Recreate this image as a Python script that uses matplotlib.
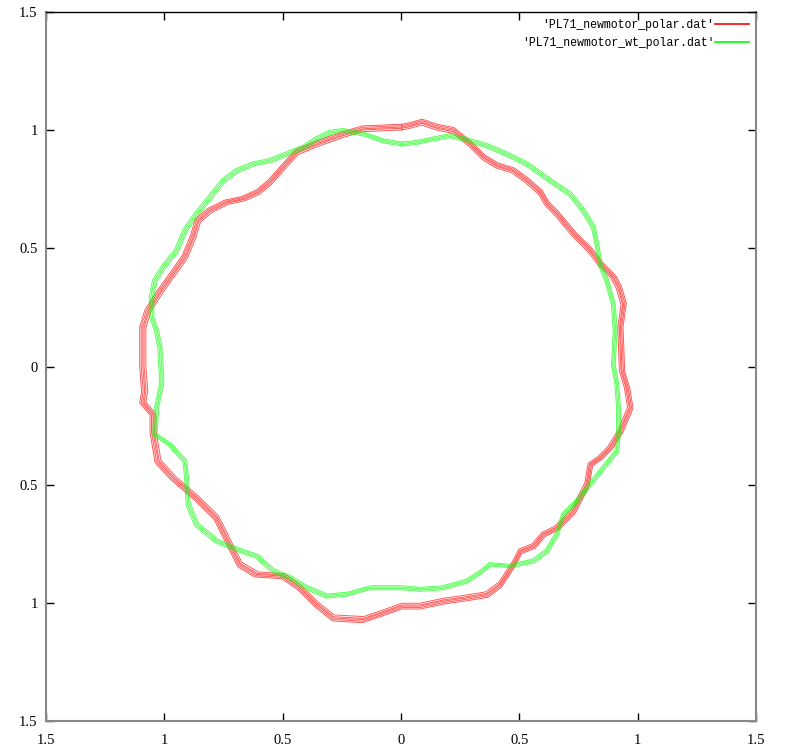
import numpy as np
import matplotlib
matplotlib.use("Agg")
import matplotlib.pyplot as plt
from matplotlib.lines import Line2D

# ---- data (data units) ----
red_x = [0.003, -0.160, -0.244, -0.357, -0.441, -0.498, -0.554, -0.604, -0.667, -0.738,
         -0.808, -0.858, -0.879, -0.914, -0.964, -1.020, -1.069, -1.091, -1.091, -1.083,
         -1.091, -1.048, -1.048, -1.027, -0.964, -0.865, -0.780, -0.724, -0.681, -0.611,
         -0.498, -0.427, -0.357, -0.286, -0.160, -0.075, 0.003, 0.080, 0.179, 0.278,
         0.363, 0.419, 0.475, 0.504, 0.560, 0.602, 0.659, 0.729, 0.786, 0.800,
         0.842, 0.884, 0.927, 0.969, 0.955, 0.934, 0.927, 0.941, 0.920, 0.898,
         0.842, 0.800, 0.729, 0.659, 0.617, 0.588, 0.532, 0.475, 0.405, 0.348,
         0.292, 0.221, 0.151, 0.088, 0.038]
red_y = [1.013, 1.006, 0.982, 0.942, 0.907, 0.843, 0.780, 0.738, 0.710, 0.695,
         0.660, 0.618, 0.547, 0.463, 0.392, 0.314, 0.237, 0.166, 0.000, -0.105,
         -0.152, -0.203, -0.274, -0.401, -0.471, -0.556, -0.640, -0.753, -0.838, -0.880,
         -0.887, -0.937, -1.007, -1.064, -1.071, -1.042, -1.014, -1.014, -0.993, -0.979,
         -0.965, -0.923, -0.838, -0.782, -0.760, -0.711, -0.683, -0.612, -0.499, -0.415,
         -0.386, -0.344, -0.274, -0.175, -0.090, -0.020, 0.166, 0.265, 0.336, 0.378,
         0.435, 0.491, 0.562, 0.646, 0.689, 0.738, 0.787, 0.829, 0.851, 0.886,
         0.942, 0.999, 1.013, 1.034, 1.020]

green_x = [0.003, -0.075, -0.160, -0.244, -0.300, -0.357, -0.413, -0.484, -0.554, -0.625,
           -0.695, -0.752, -0.808, -0.865, -0.914, -0.949, -1.006, -1.041, -1.055, -1.055,
           -1.034, -1.020, -1.013, -1.013, -1.034, -1.041, -0.978, -0.914, -0.907, -0.900,
           -0.865, -0.780, -0.695, -0.611, -0.540, -0.470, -0.399, -0.314, -0.230, -0.131,
           -0.061, 0.003, 0.080, 0.179, 0.278, 0.334, 0.377, 0.461, 0.560, 0.617,
           0.659, 0.687, 0.744, 0.800, 0.856, 0.913, 0.920, 0.920, 0.913, 0.898,
           0.906, 0.898, 0.870, 0.842, 0.828, 0.814, 0.771, 0.715, 0.631, 0.532,
           0.447, 0.363, 0.264, 0.207, 0.137, 0.066]
green_y = [0.942, 0.956, 0.985, 0.999, 0.992, 0.964, 0.928, 0.900, 0.872, 0.858,
           0.829, 0.787, 0.716, 0.646, 0.576, 0.491, 0.420, 0.364, 0.293, 0.209,
           0.152, 0.082, -0.034, -0.076, -0.175, -0.288, -0.330, -0.401, -0.471, -0.584,
           -0.669, -0.739, -0.774, -0.803, -0.866, -0.894, -0.937, -0.972, -0.965, -0.937,
           -0.937, -0.937, -0.944, -0.937, -0.909, -0.873, -0.838, -0.845, -0.824, -0.782,
           -0.711, -0.626, -0.570, -0.499, -0.429, -0.358, -0.274, -0.175, -0.076, 0.008,
           0.152, 0.265, 0.364, 0.435, 0.519, 0.590, 0.660, 0.731, 0.787, 0.858,
           0.900, 0.935, 0.964, 0.978, 0.964, 0.949]

# per-revolution radial factors (several overlapping revolutions in each file)
red_rev = [0.988, 0.995, 1.000, 1.006, 1.012]
green_rev = [0.990, 0.996, 1.002, 1.008]

tick_vals = [-1.5, -1, -0.5, 0, 0.5, 1, 1.5]
tick_text = ["1.5", "1", "0.5", "0", "0.5", "1", "1.5"]
labels = ["'PL71_newmotor_polar.dat'", "'PL71_newmotor_wt_polar.dat'"]

# ---- figure ----
fig = plt.figure(figsize=(7.99, 7.48), dpi=100)
ax = fig.add_axes([46 / 799, 27 / 748, 710 / 799, 709 / 748])

def closed(a):
    return np.append(np.asarray(a), a[0])

for xs, ys, revs, col in [(red_x, red_y, red_rev, "#ff0000"),
                          (green_x, green_y, green_rev, "#00ff00")]:
    x = closed(xs)
    y = closed(ys)
    for k in revs:
        ax.plot(x * k, y * k, color=col, lw=0.7, alpha=0.65)

ax.set_xlim(-1.5, 1.5)
ax.set_ylim(-1.5, 1.5)
ax.set_xticks(tick_vals)
ax.set_xticklabels(tick_text)
ax.set_yticks(tick_vals)
ax.set_yticklabels(tick_text)
ax.tick_params(direction="in", length=6, width=1, top=True, right=True,
               labelsize=10.5, colors="black")
ax.tick_params(axis="x", pad=9)
ax.tick_params(axis="y", pad=6)
for lab in ax.get_xticklabels() + ax.get_yticklabels():
    lab.set_fontfamily("Liberation Serif")
for s in ["left", "bottom", "right"]:
    ax.spines[s].set_color("#888888")
    ax.spines[s].set_linewidth(1.5)
ax.spines["top"].set_color("black")
ax.spines["top"].set_linewidth(1.0)

handles = [Line2D([], [], color="#ff0000", lw=1.2),
           Line2D([], [], color="#00ff00", lw=1.2)]
leg = ax.legend(handles, labels, loc="upper right", frameon=False,
                markerfirst=False, handlelength=2.9, handletextpad=0.05,
                labelspacing=0.5, borderaxespad=0.25,
                prop={"family": "Liberation Mono", "size": 8.3})
for t in leg.get_texts():
    t.set_ha("right")

fig.savefig("out.png", dpi=100)
